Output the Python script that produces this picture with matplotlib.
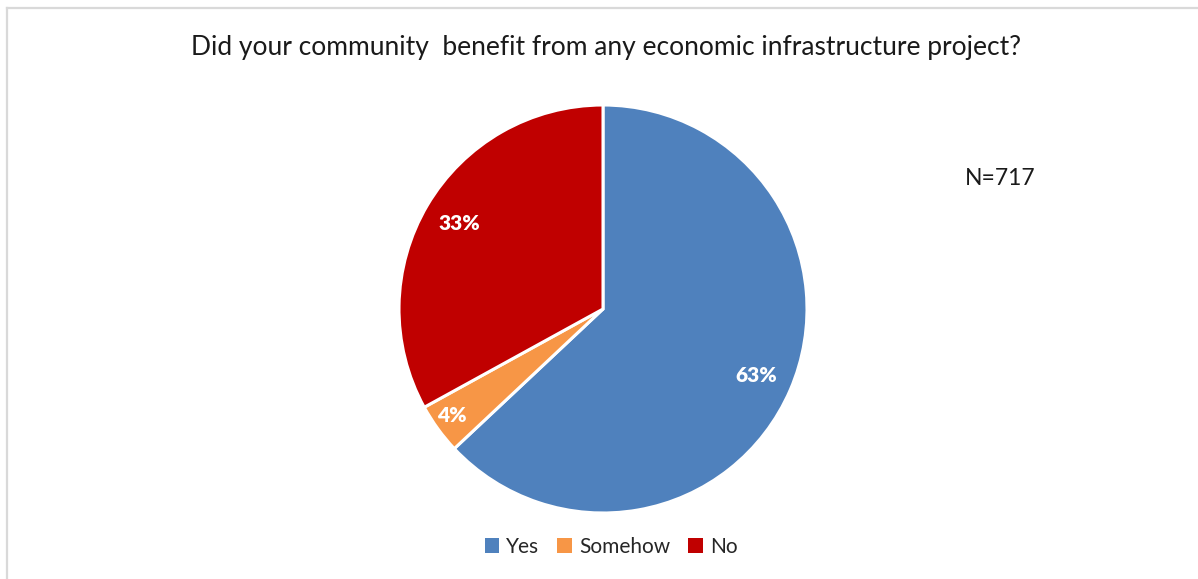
import matplotlib
matplotlib.use("Agg")
import matplotlib.pyplot as plt
from matplotlib.patches import Patch
from matplotlib.lines import Line2D

categories = ["Yes", "Somehow", "No"]
shares = [63, 4, 33]
colors = ["#4F81BD", "#F79646", "#C00000"]
title = "Did your community  benefit from any economic infrastructure project?"
note = "N=717"

plt.rcParams["font.family"] = ["Lato", "DejaVu Sans"]

W, H = 1198, 579
fig = plt.figure(figsize=(W / 100, H / 100), dpi=100)

# chart frame (top and left edges visible)
fig.add_artist(Line2D([7 / W, 1], [1 - 8 / H, 1 - 8 / H], color="#d9d9d9", lw=1.6))
fig.add_artist(Line2D([7 / W, 7 / W], [1 - 8 / H, 0], color="#d9d9d9", lw=1.6))

cx, cy, r = 603, 309, 204
ax = fig.add_axes([(cx - r) / W, 1 - (cy + r) / H, 2 * r / W, 2 * r / H])
wedges, texts, autotexts = ax.pie(
    shares, colors=colors, startangle=90, counterclock=False,
    autopct=lambda p: f"{p:.0f}%", pctdistance=0.82,
    wedgeprops=dict(edgecolor="white", linewidth=2.2),
    textprops=dict(color="white", fontsize=15, fontweight="heavy"),
)
# push the small slice's label further out
x, y = autotexts[1].get_position()
autotexts[1].set_position((x * 1.12, y * 1.08))
ax.set_aspect("equal")
ax.set_xlim(-1, 1)
ax.set_ylim(-1, 1)
ax.axis("off")

fig.text(606 / W, 1 - 48 / H, title, ha="center", va="center", fontsize=19,
         color="#1a1a1a")
fig.text(1000 / W, 1 - 178 / H, note, ha="center", va="center", fontsize=16.5,
         color="#1a1a1a")

handles = [Patch(facecolor=c, edgecolor="none") for c in colors]
fig.legend(handles, categories, loc="center", bbox_to_anchor=(611 / W, 1 - 547 / H),
           ncol=3, frameon=False, handlelength=0.7, handleheight=0.7,
           handletextpad=0.35, columnspacing=0.85, labelcolor="#262626",
           prop=dict(size=15))

fig.savefig("out.png", dpi=100, facecolor="white")
